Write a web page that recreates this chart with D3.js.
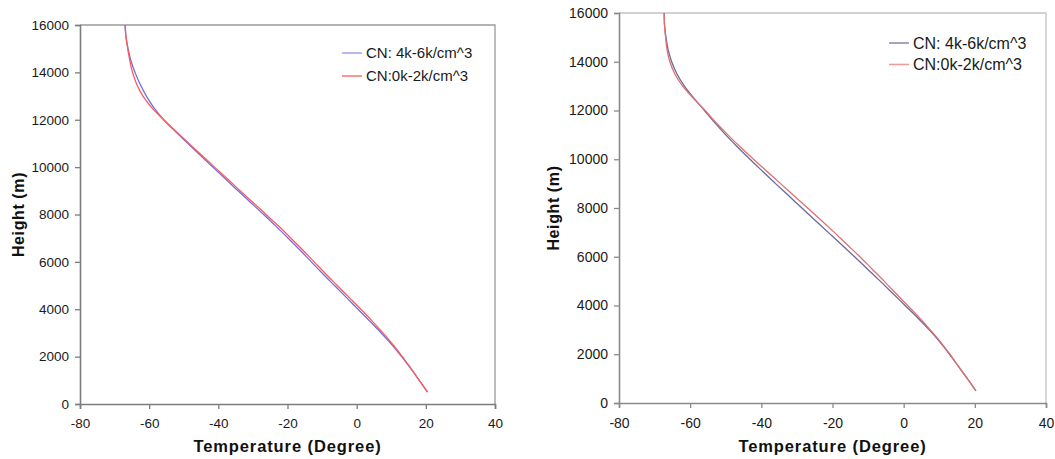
<!DOCTYPE html>
<html>
<head>
<meta charset="utf-8">
<script src="https://cdn.jsdelivr.net/npm/d3@7"></script>
<style>
  html, body { margin: 0; padding: 0; background: #fff; }
  svg { display: block; font-family: "Liberation Sans", Arial, sans-serif; }
</style>
</head>
<body>
<svg id="chart" width="1055" height="459"></svg>
<script>
// Heights (m) at which temperature profiles are sampled
const heights = [500, 1000, 1500, 2000, 2500, 3000, 3500, 4000, 4500, 5000,
  5500, 6000, 6500, 7000, 7500, 8000, 8500, 9000, 9500, 10000, 10500, 11000,
  11500, 12000, 12500, 13000, 13500, 14000, 14500, 15000, 15500, 16000];

// Left panel: temperature (°C) for each CN range
const leftCN46 = [20.5, 18.1, 15.6, 13.0, 10.2, 7.1, 3.8, 0.4, -3.0, -6.4,
  -9.8, -13.1, -16.4, -19.8, -23.3, -26.9, -30.6, -34.3, -37.9, -41.6, -45.2,
  -48.8, -52.4, -55.8, -58.6, -60.8, -62.6, -64.1, -65.3, -66.1, -66.7, -67.0];
const leftCN02 = [20.5, 18.1, 15.7, 13.2, 10.5, 7.6, 4.5, 1.2, -2.2, -5.6,
  -9.0, -12.3, -15.6, -19.0, -22.5, -26.2, -29.9, -33.7, -37.3, -41.1, -44.8,
  -48.5, -52.2, -55.8, -59.2, -61.8, -63.6, -64.8, -65.6, -66.2, -66.7, -66.9];

// Right panel: temperature (°C) for each CN range
const rightCN46 = [20.3, 17.9, 15.4, 12.9, 10.2, 7.2, 3.9, 0.4, -3.1, -6.6,
  -10.2, -13.8, -17.5, -21.2, -24.9, -28.6, -32.3, -36.0, -39.6, -43.2, -46.7,
  -50.0, -53.1, -56.0, -58.9, -61.6, -63.7, -65.2, -66.2, -66.8, -67.2, -67.3];
const rightCN02 = [20.3, 17.9, 15.4, 13.0, 10.4, 7.5, 4.4, 1.1, -2.2, -5.5,
  -8.9, -12.3, -15.9, -19.5, -23.2, -27.0, -30.8, -34.6, -38.4, -42.2, -45.9,
  -49.4, -52.7, -55.8, -59.1, -62.1, -64.3, -65.7, -66.5, -66.9, -67.2, -67.3];

const seriesNames = ["CN: 4k-6k/cm^3", "CN:0k-2k/cm^3"];
const xTicks = [-80, -60, -40, -20, 0, 20, 40];
const yTicks = [0, 2000, 4000, 6000, 8000, 10000, 12000, 14000, 16000];
const xTitle = "Temperature (Degree)";
const yTitle = "Height (m)";

const svg = d3.select("#chart");
const plainNumber = d => String(d);   // ASCII hyphen for negatives

function drawPanel(cfg) {
  const x = d3.scaleLinear().domain([-80, 40]).range([cfg.left, cfg.right]);
  const y = d3.scaleLinear().domain([0, 16000]).range([cfg.bottom, cfg.top]);
  const g = svg.append("g");

  const clipId = "clip-" + cfg.id;
  g.append("clipPath").attr("id", clipId)
    .append("rect")
    .attr("x", cfg.left).attr("y", cfg.top - 1)
    .attr("width", cfg.right - cfg.left).attr("height", cfg.bottom - cfg.top + 1);

  // plot-area frame (top and right edges)
  g.append("path")
    .attr("d", `M${cfg.left},${cfg.top}H${cfg.right}V${cfg.bottom}`)
    .attr("fill", "none").attr("stroke", cfg.frameColor).attr("stroke-width", 1.3);

  // axes
  const xAxis = g.append("g").attr("transform", `translate(0,${cfg.bottom})`)
    .call(d3.axisBottom(x).tickValues(xTicks).tickSize(5).tickPadding(7).tickFormat(plainNumber));
  const yAxis = g.append("g").attr("transform", `translate(${cfg.left},0)`)
    .call(d3.axisLeft(y).tickValues(yTicks).tickSize(5).tickPadding(6).tickFormat(plainNumber));
  [xAxis, yAxis].forEach(a => {
    a.select(".domain").attr("stroke", cfg.axisColor).attr("stroke-width", 1.6);
    a.selectAll(".tick line").attr("stroke", cfg.axisColor).attr("stroke-width", 1.3);
    a.selectAll(".tick text")
      .attr("fill", "#1a1a1a")
      .style("font-size", cfg.tickSize + "px")
      .style("font-family", '"Liberation Sans", Arial, sans-serif');
  });
  xAxis.selectAll(".tick text").attr("dy", "0.9em");

  // profiles
  const line = d3.line()
    .x(d => x(d[0]))
    .y(d => y(d[1]))
    .curve(d3.curveCatmullRom.alpha(0.5));
  const lines = g.append("g").attr("clip-path", `url(#${clipId})`);
  cfg.series.forEach((s, i) => {
    lines.append("path")
      .datum(s.map((t, k) => [t, heights[k]]))
      .attr("d", line)
      .attr("fill", "none")
      .attr("stroke", cfg.colors[i])
      .attr("stroke-width", 1.3)
      .attr("stroke-linejoin", "round");
  });

  // legend
  const lg = g.append("g");
  seriesNames.forEach((name, i) => {
    const yy = cfg.legendY + i * cfg.legendGap;
    lg.append("line")
      .attr("x1", cfg.legendX).attr("x2", cfg.legendX + 20)
      .attr("y1", yy).attr("y2", yy)
      .attr("stroke", cfg.legendColors[i]).attr("stroke-width", 1.6);
    lg.append("text")
      .attr("x", cfg.legendX + 24).attr("y", yy)
      .attr("dy", "0.36em")
      .attr("fill", "#1a1a1a")
      .style("font-size", cfg.legendSize + "px")
      .text(name);
  });

  // axis titles
  g.append("text")
    .attr("x", (cfg.left + cfg.right) / 2).attr("y", cfg.xTitleY)
    .attr("text-anchor", "middle")
    .attr("fill", "#111")
    .style("font-size", "16.5px").style("font-weight", "bold")
    .style("letter-spacing", "0.9px")
    .text(xTitle);
  g.append("text")
    .attr("transform", `translate(${cfg.yTitleX},${(cfg.top + cfg.bottom) / 2}) rotate(-90)`)
    .attr("text-anchor", "middle")
    .attr("dy", "0.36em")
    .attr("fill", "#111")
    .style("font-size", "16px").style("font-weight", "bold")
    .style("letter-spacing", "0.6px")
    .text(yTitle);
}

drawPanel({
  id: "a", left: 80, right: 495, top: 25, bottom: 404,
  series: [leftCN46, leftCN02],
  colors: ["#6e6ee6", "#ff5a5a"],
  legendColors: ["#a8a8ec", "#ff7a7a"],
  axisColor: "#7c7c7c", frameColor: "#9a9a9a",
  tickSize: 13.5, legendSize: 15, legendX: 342, legendY: 53, legendGap: 23,
  xTitleY: 452, yTitleX: 18.5
});

drawPanel({
  id: "b", left: 619, right: 1046, top: 13, bottom: 403,
  series: [rightCN46, rightCN02],
  colors: ["#6a6a9c", "#e26f6f"],
  legendColors: ["#8c8cb4", "#f09a9a"],
  axisColor: "#8a8a8a", frameColor: "#c4c4c4",
  tickSize: 14, legendSize: 16, legendX: 889, legendY: 43, legendGap: 21.5,
  xTitleY: 452, yTitleX: 553
});
</script>
</body>
</html>
